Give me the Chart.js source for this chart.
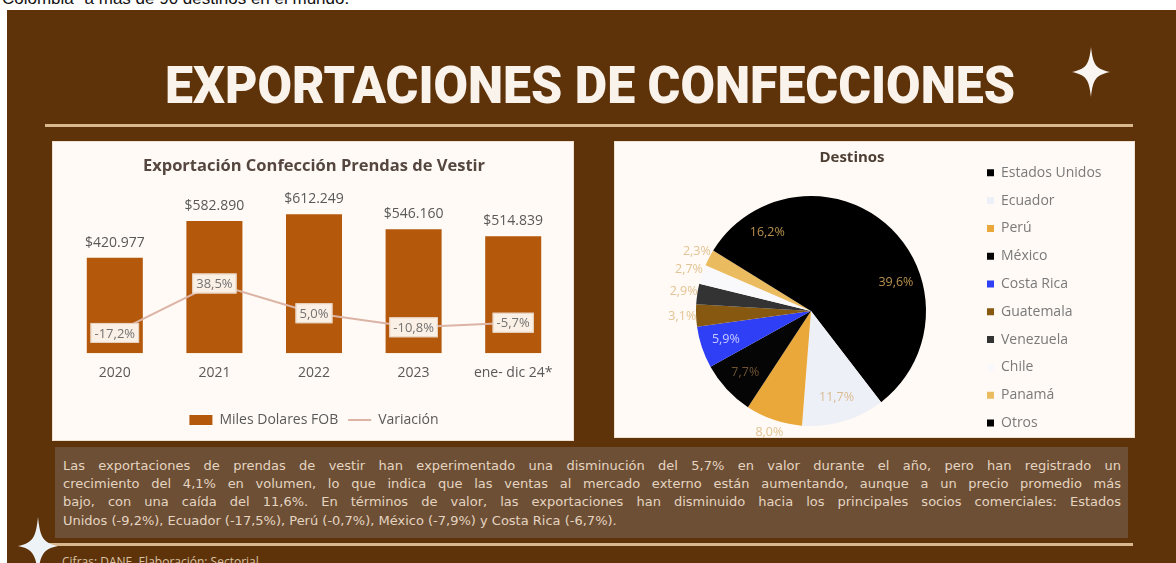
<!DOCTYPE html>
<html><head><meta charset="utf-8">
<script src="https://cdn.jsdelivr.net/npm/chart.js@4.4.1/dist/chart.umd.min.js"></script>
<style>
html,body{margin:0;padding:0;width:1176px;height:563px;overflow:hidden;background:#fff;position:relative}
#top{position:absolute;left:2px;top:-11px;font:17px "Liberation Sans",Arial,sans-serif;color:#111;white-space:nowrap;line-height:20px}
#bg{position:absolute;left:7px;top:10px;width:1169px;height:553px;background:#5f3309}
#title{position:absolute;left:0;top:60px;width:1180px;text-align:center;font:900 52px Roboto,"Liberation Sans",sans-serif;line-height:52px;color:#faf3ec;white-space:nowrap}
#title span{display:inline-block;transform-origin:center}
.rule{position:absolute;height:3px;background:#d9b78f}
.panel{position:absolute;background:#fffaf5;box-shadow:0 0 0 1px #efe0cf}
#desc{position:absolute;left:55px;top:447px;width:1073px;height:91px;background:#6d4f35}
#desc div{position:absolute;left:8px;width:1058px;font:13px "DejaVu Sans",sans-serif;color:#e4d4c1;text-align:justify;text-align-last:justify;white-space:nowrap;line-height:18px}
#foot{position:absolute;left:62px;top:553px;font:12px "Open Sans",sans-serif;color:#d9c2a5;white-space:nowrap}
canvas{position:absolute}
svg{position:absolute}
</style></head>
<body>
<div id="top">Colombia" a más de 90 destinos en el mundo.</div>
<div id="bg"></div>
<div id="title"><span id="tspan">EXPORTACIONES DE CONFECCIONES</span></div>
<div class="rule" style="left:45px;top:124px;width:1088px"></div>
<div class="panel" style="left:53px;top:142px;width:520px;height:298px"></div>
<div class="panel" style="left:615px;top:142px;width:519px;height:295px"></div>
<div id="desc">
<div style="top:10px">Las exportaciones de prendas de vestir han experimentado una disminución del 5,7% en valor durante el año, pero han registrado un</div>
<div style="top:28px">crecimiento del 4,1% en volumen, lo que indica que las ventas al mercado externo están aumentando, aunque a un precio promedio más</div>
<div style="top:46px">bajo, con una caída del 11,6%. En términos de valor, las exportaciones han disminuido hacia los principales socios comerciales: Estados</div>
<div style="top:65px;text-align-last:left">Unidos (-9,2%), Ecuador (-17,5%), Perú (-0,7%), México (-7,9%) y Costa Rica (-6,7%).</div>
</div>
<div class="rule" style="left:45px;top:543px;width:1088px"></div>
<div id="foot">Cifras: DANE. Elaboración: Sectorial</div>
<svg style="left:1066px;top:44px" width="50" height="56" viewBox="-25 -28 50 56"><path d="M0,-25 C2,-7 5,-3 19,0 C5,3 2,7 0,25 C-2,7 -5,3 -19,0 C-5,-3 -2,-7 0,-25 Z" fill="#f8f5f2"/></svg>
<svg style="left:13px;top:514px" width="50" height="64" viewBox="-25 -32 50 64"><path d="M0,-29 C2,-9 5,-3 20,0 C5,3 2,9 0,29 C-2,9 -5,3 -20,0 C-5,-3 -2,-9 0,-29 Z" fill="#eef3f8"/></svg>
<canvas id="c1" width="520" height="298" style="left:53px;top:142px;width:520px;height:298px"></canvas>
<canvas id="c2" width="519" height="340" style="left:615px;top:142px;width:519px;height:340px"></canvas>
<script>
// ---- data ----
const years = ['2020', '2021', '2022', '2023', 'ene- dic 24*'];
const fobValues = [420977, 582890, 612249, 546160, 514839];
const variacion = [-17.2, 38.5, 5.0, -10.8, -5.7];
const destinos = ['Estados Unidos', 'Ecuador', 'Perú', 'México', 'Costa Rica', 'Guatemala', 'Venezuela', 'Chile', 'Panamá', 'Otros'];
const participacion = [39.6, 11.7, 8.0, 7.7, 5.9, 3.1, 2.9, 2.7, 2.3, 16.2];

// ---- styles ----
const pieColors = ['#000000', '#eef0f7', '#eaa83a', '#050505', '#2f3ff5', '#87580f', '#333333', '#f9f9fb', '#ebbb5f', '#000000'];
const pieLabelPlace = ['in', 'in', 'out', 'in', 'in', 'out', 'out', 'out', 'out', 'in'];
const pieLabelColors = ['#b8914f', '#d9bb93', '#e2c393', '#6e5232', '#c9ccff', '#e2c393', '#e2c393', '#e2c393', '#e2c393', '#b8914f'];
const FONT = '"Open Sans", Lato, sans-serif';

const fmtMoney = n => '$' + String(n).replace(/\B(?=(\d{3})+(?!\d))/g, '.');
const fmtPct = v => v.toFixed(1).replace('.', ',') + '%';

// fit title width
(function(){
  const s = document.getElementById('tspan');
  const w = s.getBoundingClientRect().width;
  s.style.transform = 'scaleX(' + (850 / w) + ')';
})();

// ---- bar + line chart ----
const barLabels = {
  id: 'barLabels',
  afterDatasetsDraw(chart) {
    const ctx = chart.ctx;
    ctx.save();
    ctx.font = '14px ' + FONT;
    ctx.textAlign = 'center';
    ctx.textBaseline = 'middle';
    const bm = chart.getDatasetMeta(1);
    bm.data.forEach((el, i) => {
      ctx.fillStyle = '#595959';
      ctx.fillText(fmtMoney(fobValues[i]), el.x, el.y - 15);
    });
    ctx.font = '13px ' + FONT;
    const lm = chart.getDatasetMeta(0);
    lm.data.forEach((el, i) => {
      const t = fmtPct(variacion[i]);
      const w = ctx.measureText(t).width + 8, h = 20;
      ctx.fillStyle = '#fbf0e6';
      ctx.fillRect(el.x - w / 2, el.y - h / 2, w, h);
      ctx.strokeStyle = '#e6cfbc';
      ctx.lineWidth = 1;
      ctx.strokeRect(el.x - w / 2 + 0.5, el.y - h / 2 + 0.5, w - 1, h - 1);
      ctx.fillStyle = '#727272';
      ctx.fillText(t, el.x, el.y + 1);
    });
    ctx.restore();
  }
};

new Chart(document.getElementById('c1'), {
  data: {
    labels: years,
    datasets: [
      { type: 'line', label: 'Variación', data: variacion, yAxisID: 'y2',
        borderColor: '#dcb4a5', backgroundColor: '#dcb4a5', borderWidth: 2,
        pointRadius: 1.5, tension: 0 },
      { type: 'bar', label: 'Miles Dolares FOB', data: fobValues, yAxisID: 'y',
        backgroundColor: '#b4580c', barPercentage: 0.5625, categoryPercentage: 1 }
    ]
  },
  options: {
    responsive: false, animation: false,
    layout: { padding: { left: 12, right: 10, top: 0, bottom: 3 } },
    scales: {
      x: { grid: { display: false }, border: { display: false },
           ticks: { color: '#595959', font: { size: 14, family: FONT }, padding: 3 },
           afterFit: s => { s.height += 19; } },
      y: { display: false, min: 0, max: 720000 },
      y2: { display: false, min: -40, max: 144, position: 'right' }
    },
    plugins: {
      title: { display: true, text: 'Exportación Confección Prendas de Vestir', color: '#554740',
               font: { size: 16.5, weight: 'bold', family: FONT }, padding: { top: 14, bottom: 14 } },
      legend: { position: 'bottom', reverse: true,
        labels: { usePointStyle: true, pointStyleWidth: 23, boxHeight: 10, padding: 10,
          color: '#595959', font: { size: 14, family: FONT },
          generateLabels(chart) {
            const items = Chart.defaults.plugins.legend.labels.generateLabels(chart);
            items.forEach(it => {
              if (it.datasetIndex === 0) { it.pointStyle = 'line'; it.lineWidth = 2; it.strokeStyle = '#dcb4a5'; }
              else { it.pointStyle = 'rect'; it.lineWidth = 0; }
            });
            return items;
          } } },
      tooltip: { enabled: false }
    }
  },
  plugins: [barLabels]
});

// ---- pie chart ----
const pieExtras = {
  id: 'pieExtras',
  afterDatasetsDraw(chart) {
    const ctx = chart.ctx;
    ctx.save();
    ctx.font = 'bold 15px ' + FONT;
    ctx.fillStyle = '#4d3e34';
    ctx.textAlign = 'center';
    ctx.textBaseline = 'middle';
    ctx.fillText('Destinos', 237, 16);
    ctx.font = '12.5px ' + FONT;
    const meta = chart.getDatasetMeta(0);
    meta.data.forEach((arc, i) => {
      const p = arc.getProps(['x', 'y', 'startAngle', 'endAngle', 'outerRadius'], true);
      const mid = (p.startAngle + p.endAngle) / 2;
      const r = p.outerRadius * (pieLabelPlace[i] === 'in' ? 0.78 : 1.12);
      ctx.fillStyle = pieLabelColors[i];
      ctx.fillText(fmtPct(participacion[i]), p.x + Math.cos(mid) * r, p.y + Math.sin(mid) * r);
    });
    ctx.restore();
  }
};

const pie = new Chart(document.getElementById('c2'), {
  type: 'pie',
  data: { labels: destinos, datasets: [{ data: participacion, backgroundColor: pieColors, borderWidth: 0, radius: 115 }] },
  options: {
    responsive: false, animation: false,
    layout: { padding: { left: 30, right: 10, top: 10, bottom: 12 } },
    plugins: {
      legend: { position: 'right', align: 'start',
        labels: { boxWidth: 7, boxHeight: 7, padding: 13.8, color: '#7a7a7a', font: { size: 14, family: FONT } } },
      tooltip: { enabled: false }
    }
  },
  plugins: [pieExtras]
});
// place legend square at x=372 and pie centre at x=196 (canvas coords)
(function(){
  const hb = pie.legend.legendHitBoxes[0];
  const shift = 372 - hb.left;
  pie.options.layout.padding.right = Math.max(0, pie.options.layout.padding.right - shift);
  pie.update();
  const right = pie.chartArea.right;
  pie.options.layout.padding.left = 392 - right;
  pie.update();
})();
</script>
</body></html>
